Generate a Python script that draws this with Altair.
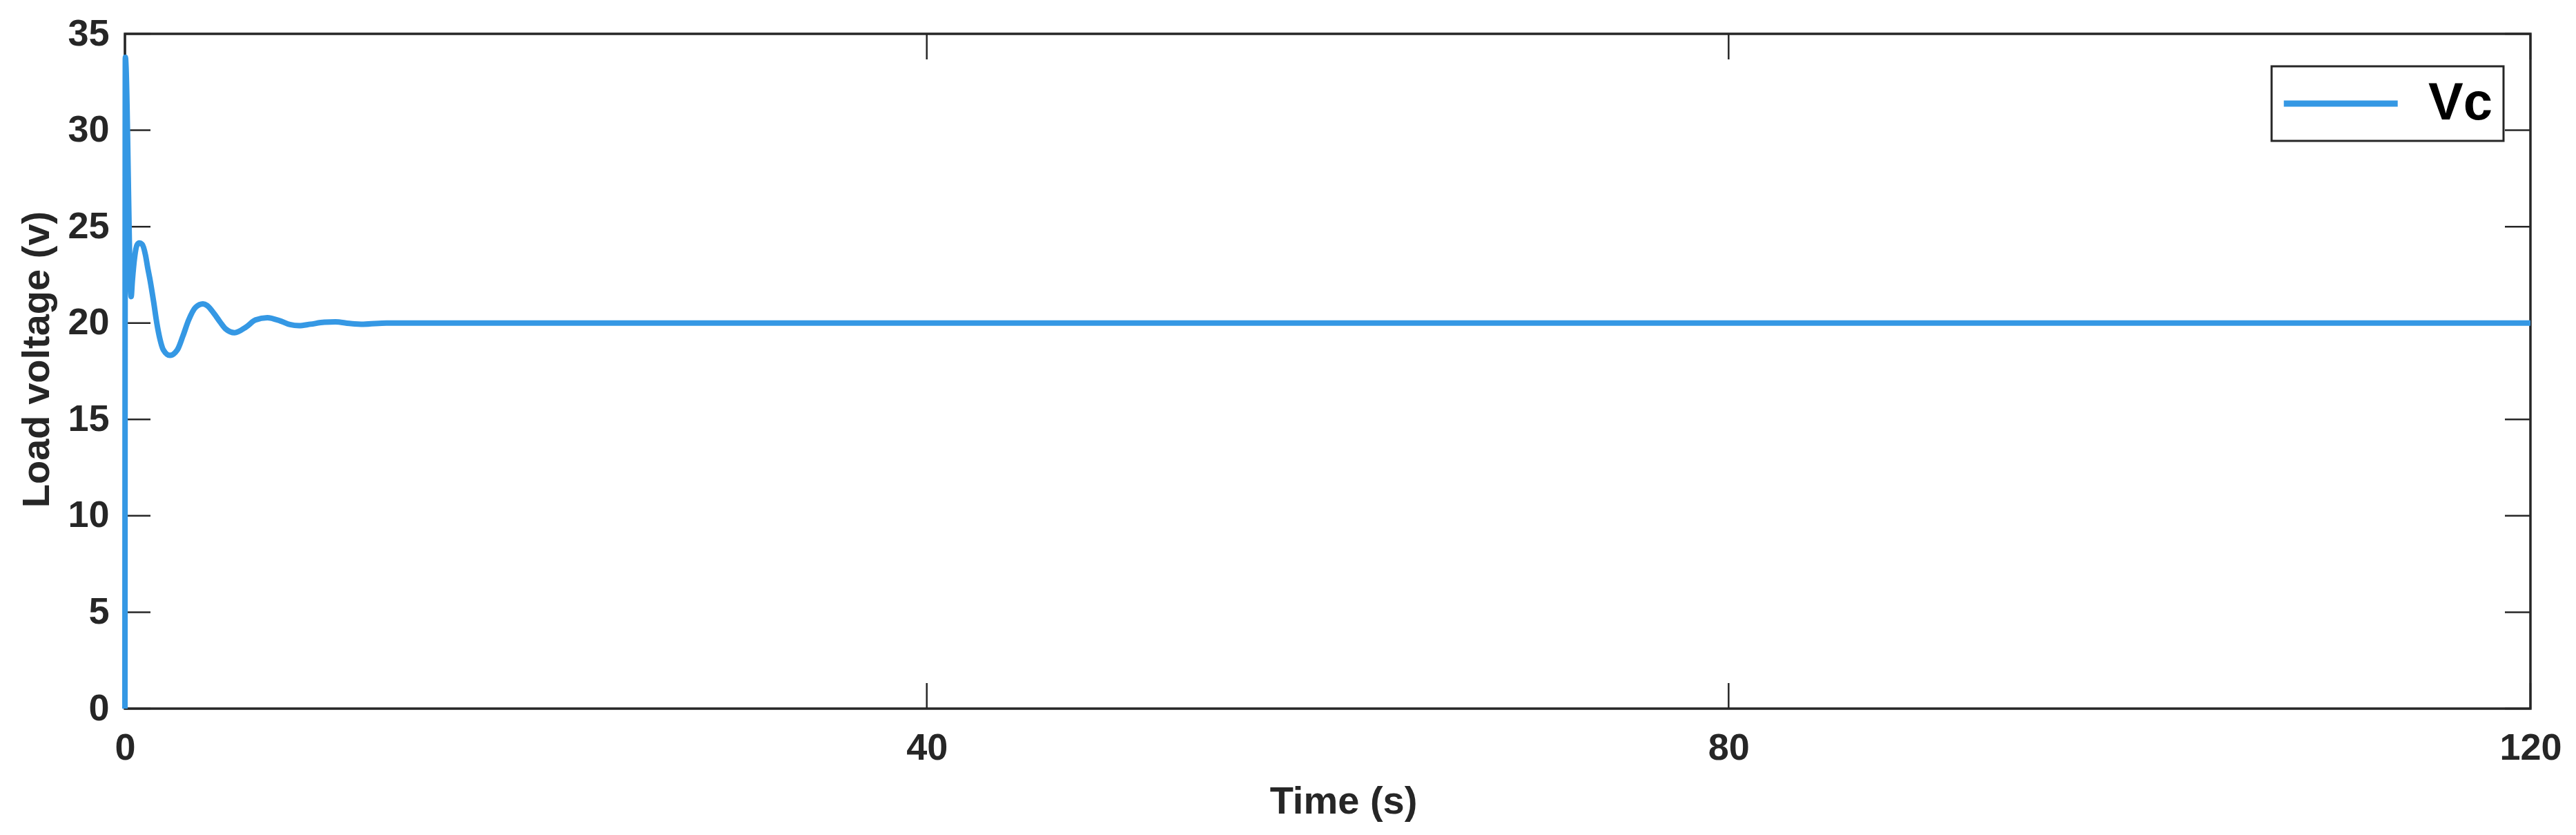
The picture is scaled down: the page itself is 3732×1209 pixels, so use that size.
import altair as alt
import pandas as pd

# ---- data ----
time_s = [0, 0.02, 0.31, 0.37, 0.48, 0.60, 0.72, 0.86, 1.03, 1.13, 1.24, 1.43, 1.59,
          1.74, 1.92, 2.24, 2.61, 2.89, 3.18, 3.52, 3.89, 4.10, 4.44, 4.75, 5.02, 5.47,
          6.05, 6.51, 7.10, 7.77, 8.23, 8.69, 9.26, 9.95, 10.5, 11.2, 11.9, 13.05,
          14.3, 16.0, 18.0, 120.0]
voltage = [0, 33.78, 21.37, 22.19, 23.38, 24.04, 24.15, 24.08, 23.5, 22.9, 22.31, 21.11,
           20.0, 19.2, 18.6, 18.32, 18.6, 19.32, 20.16, 20.81, 20.99, 20.91, 20.5, 20.05,
           19.7, 19.5, 19.8, 20.16, 20.28, 20.1, 19.92, 19.86, 19.94, 20.04, 20.06,
           19.98, 19.94, 20.0, 20.0, 20.0, 20.0, 20.0]
series_name = ["Vc"] * len(time_s)
x_ticks = [0, 40, 80, 120]
y_ticks = [0, 5, 10, 15, 20, 25, 30, 35]

# ---- styling ----
W, H = 3485, 977
TICK = 37
FONT = "Liberation Sans"
INK = "#262626"
BLUE = "#3598E4"

df = pd.DataFrame({"t": time_s, "v": voltage, "series": series_name})
xt = pd.DataFrame({"t": x_ticks})
yt = pd.DataFrame({"v": y_ticks})

xscale = alt.Scale(domain=[0, 120], nice=False, zero=False)
yscale = alt.Scale(domain=[0, 35], nice=False)

x_axis = alt.Axis(values=x_ticks, format="d", domain=False, ticks=False, tickSize=0,
                  grid=False, labelFont=FONT, labelFontSize=54, labelFontWeight="bold",
                  labelColor=INK, labelPadding=73, labelBaseline="alphabetic",
                  labelFlush=False, labelOverlap=False,
                  title="Time (s)", titleFont=FONT, titleFontSize=56,
                  titleFontWeight="bold", titleColor=INK, titleX=1765, titleY=151,
                  titleBaseline="alphabetic", titleAlign="center")
y_axis = alt.Axis(values=y_ticks, format="d", domain=False, ticks=False, tickSize=0,
                  grid=False, labelFont=FONT, labelFontSize=54, labelFontWeight="bold",
                  labelColor=INK, labelPadding=23, labelBaseline="middle",
                  labelFlush=False, labelOverlap=False,
                  title="Load voltage (v)", titleFont=FONT, titleFontSize=56,
                  titleFontWeight="bold", titleColor=INK, titleAngle=270,
                  titleX=-111, titleY=471, titleBaseline="alphabetic", titleAlign="center")

tick_style = dict(color=INK, strokeWidth=2.5)

x_bottom = alt.Chart(xt).mark_rule(**tick_style).encode(
    x=alt.X("t:Q", scale=xscale), y=alt.value(H), y2=alt.value(H - TICK))
x_top = alt.Chart(xt).mark_rule(**tick_style).encode(
    x=alt.X("t:Q", scale=xscale), y=alt.value(0), y2=alt.value(TICK))
y_left = alt.Chart(yt).mark_rule(**tick_style).encode(
    y=alt.Y("v:Q", scale=yscale), x=alt.value(0), x2=alt.value(TICK))
y_right = alt.Chart(yt).mark_rule(**tick_style).encode(
    y=alt.Y("v:Q", scale=yscale), x=alt.value(W), x2=alt.value(W - TICK))

line = alt.Chart(df).mark_line(strokeWidth=8, interpolate="monotone",
                               strokeJoin="round").encode(
    x=alt.X("t:Q", scale=xscale, axis=x_axis),
    y=alt.Y("v:Q", scale=yscale, axis=y_axis),
    color=alt.Color("series:N", scale=alt.Scale(domain=["Vc"], range=[BLUE]),
                    legend=alt.Legend(title=None, orient="none", legendX=3110, legendY=47,
                                      symbolType="M-2.2,0H7.8", symbolSize=1089,
                                      symbolStrokeWidth=9, labelFont=FONT,
                                      labelFontSize=76, labelFontWeight="bold",
                                      labelColor="#000000", labelOffset=135,
                                      padding=16, strokeColor=INK, fillColor="white")),
)

chart = alt.layer(x_bottom, x_top, y_left, y_right, line).properties(
    width=W, height=H,
    autosize=alt.AutoSizeParams(type="none"),
    padding={"left": 173, "top": 41, "right": 58, "bottom": 175},
    background="white",
).configure_view(stroke=INK, strokeWidth=3.5).configure_legend(strokeWidth=3)

chart.save("out.html", embed_options={"renderer": "svg", "actions": False})
